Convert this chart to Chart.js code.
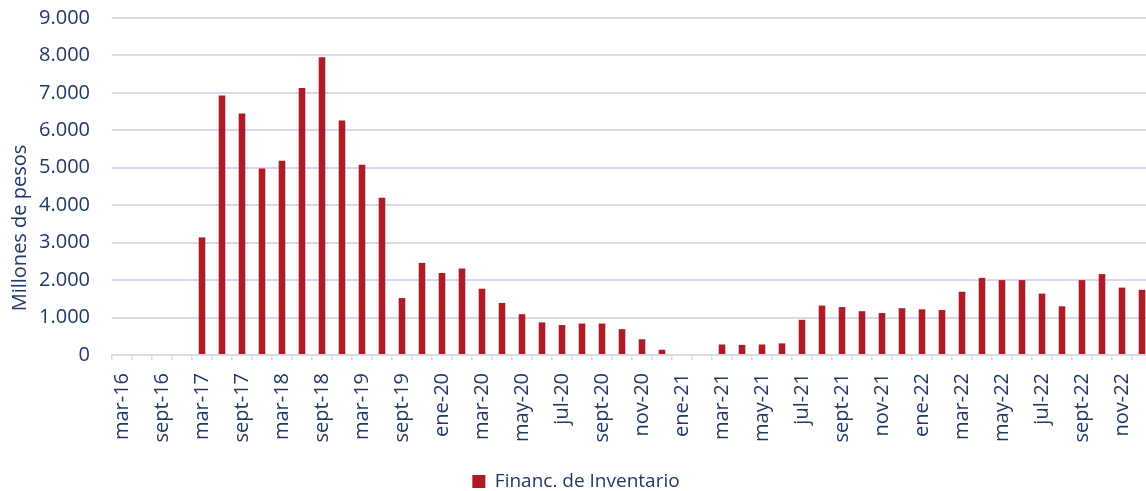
<!DOCTYPE html>
<html>
<head>
<meta charset="utf-8">
<script src="https://cdn.jsdelivr.net/npm/chart.js@4"></script>
<style>
  html, body { margin: 0; padding: 0; background: #fff; overflow: hidden; }
  #wrap { width: 1152px; height: 491px; }
</style>
</head>
<body>
<div id="wrap"><canvas id="chart"></canvas></div>
<script>
/* months: quarterly until dic-19, monthly afterwards */
const labels = [
  'mar-16','jun-16','sept-16','dic-16','mar-17','jun-17','sept-17','dic-17',
  'mar-18','jun-18','sept-18','dic-18','mar-19','jun-19','sept-19','dic-19',
  'ene-20','feb-20','mar-20','abr-20','may-20','jun-20','jul-20','ago-20',
  'sept-20','oct-20','nov-20','dic-20','ene-21','feb-21','mar-21','abr-21',
  'may-21','jun-21','jul-21','ago-21','sept-21','oct-21','nov-21','dic-21',
  'ene-22','feb-22','mar-22','abr-22','may-22','jun-22','jul-22','ago-22',
  'sept-22','oct-22','nov-22','dic-22'
];

/* Financ. de Inventario, millones de pesos */
const inventario = [
  null, null, null, null, 3140, 6930, 6450, 4980,
  5190, 7130, 7950, 6260, 5080, 4200, 1520, 2460,
  2190, 2310, 1770, 1390, 1090, 870, 800, 840,
  840, 690, 420, 140, 0, 0, 280, 270,
  280, 310, 940, 1320, 1280, 1170, 1120, 1250,
  1220, 1200, 1690, 2060, 2000, 2000, 1640, 1300,
  2000, 2160, 1800, 1740
];

const yTicks = [0, 1000, 2000, 3000, 4000, 5000, 6000, 7000, 8000, 9000];

const NAVY = '#1f3864';
const GRID = '#d9d9ec';
const FONT = '"Open Sans", "Noto Sans", sans-serif';

const fmt = v => String(v).replace(/\B(?=(\d{3})+(?!\d))/g, '.');

/* y-axis title drawn by hand so it sits where the original has it */
const yTitle = {
  id: 'yTitle',
  afterDraw (chart) {
    const ctx = chart.ctx;
    ctx.save();
    ctx.translate(20, 228);
    ctx.rotate(-Math.PI / 2);
    ctx.font = '20px ' + FONT;
    ctx.fillStyle = NAVY;
    ctx.textAlign = 'center';
    ctx.textBaseline = 'middle';
    ctx.fillText('Millones de pesos', 0, 0);
    ctx.restore();
  }
};

new Chart(document.getElementById('chart'), {
  type: 'bar',
  data: {
    labels,
    datasets: [{
      label: 'Financ. de Inventario',
      data: inventario,
      backgroundColor: '#ae1a26',
      barPercentage: 0.33,
      categoryPercentage: 1
    }]
  },
  options: {
    responsive: true,
    maintainAspectRatio: false,
    animation: false,
    layout: { padding: { left: 0, top: 18, right: 0, bottom: -10 } },
    plugins: {
      tooltip: { enabled: false },
      legend: {
        position: 'bottom',
        labels: {
          color: NAVY,
          font: { family: FONT, size: 19 },
          boxWidth: 13, boxHeight: 13, padding: 2
        }
      }
    },
    scales: {
      x: {
        offset: true,
        afterFit: ax => { ax.height = 115; ax.paddingLeft = 0; ax.paddingRight = 0; },
        grid: {
          offset: true, drawOnChartArea: false, drawTicks: true,
          tickLength: 5, color: GRID, lineWidth: 1.5
        },
        border: { color: GRID, width: 2 },
        ticks: {
          autoSkip: false, maxRotation: 90, minRotation: 90, padding: 13,
          color: NAVY, font: { family: FONT, size: 20 },
          callback: (v, i) => i % 2 === 0 ? labels[i] : ''
        }
      },
      y: {
        min: 0, max: 9000,
        afterFit: ax => { ax.width = 112; ax.paddingTop = 0; ax.paddingBottom = 0; },
        afterBuildTicks: ax => { ax.ticks = yTicks.map(v => ({ value: v })); },
        grid: { color: GRID, lineWidth: 2, drawTicks: false },
        border: { display: false },
        ticks: {
          color: NAVY, font: { family: FONT, size: 20 }, padding: 22,
          callback: v => fmt(v)
        }
      }
    }
  },
  plugins: [yTitle]
});
</script>
</body>
</html>
